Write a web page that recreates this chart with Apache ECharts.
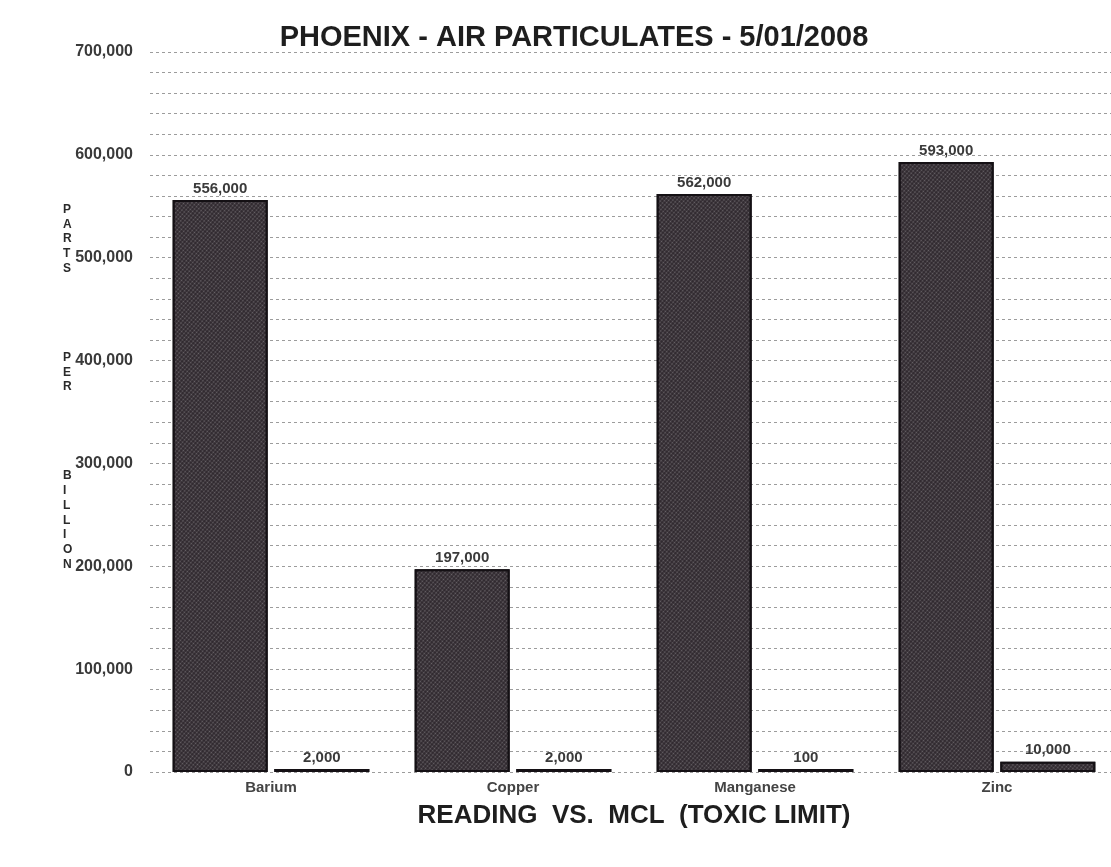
<!DOCTYPE html>
<html>
<head>
<meta charset="utf-8">
<title>Phoenix - Air Particulates</title>
<script src="https://cdn.jsdelivr.net/npm/echarts@6/dist/echarts.min.js"></script>
<style>
  html, body { margin: 0; padding: 0; background: #fff; }
  #chart { width: 1111px; height: 867px; }
</style>
</head>
<body>
<div id="chart"></div>
<script>
// 数据
const categories = ["Barium", "Copper", "Manganese", "Zinc"];
const readings = [556000, 197000, 562000, 593000];
const mcl = [2000, 2000, 100, 10000];
const yTickLabels = ["0", "100,000", "200,000", "300,000", "400,000", "500,000", "600,000", "700,000"];
const yTitle = ["P", "A", "R", "T", "S", "", "", "", "", "", "P", "E", "R", "", "", "", "", "", "B", "I", "L", "L", "I", "O", "N"];

const barStyle = {
  color: "#2e272d",
  borderColor: "#141014",
  borderWidth: 2,
  decal: {
    symbol: "circle",
    symbolSize: 0.6,
    color: "rgba(255,255,255,0.28)",
    dashArrayX: [3, 0],
    dashArrayY: [3, 0],
    rotation: 0.7,
  },
};

const labelStyle = {
  show: true,
  position: "top",
  distance: 4,
  fontFamily: "Liberation Sans, Arial",
  fontSize: 15,
  fontWeight: "bold",
  color: "#3a3a3a",
  formatter: (p) => p.value.toLocaleString("en-US"),
};

const chart = echarts.init(document.getElementById("chart"));
chart.setOption({
  animation: false,
  backgroundColor: "#fff",
  textStyle: { fontFamily: "Liberation Sans, Arial" },
  title: {
    text: "PHOENIX - AIR PARTICULATES - 5/01/2008",
    left: 569,
    top: 18,
    textAlign: "center",
    textStyle: { fontSize: 29, fontWeight: "bold", color: "#1e1e1e" },
  },
  graphic: [
    {
      type: "text",
      left: 63,
      top: 202,
      style: {
        text: yTitle.join("\n"),
        fontSize: 12,
        fontWeight: "bold",
        lineHeight: 14.8,
        fill: "#2a2a2a",
        align: "center",
      },
    },
  ],
  grid: { left: 150, width: 968, top: 52, bottom: 95, outerBoundsMode: "none" },
  xAxis: {
    type: "category",
    data: categories,
    axisLine: { show: false },
    axisTick: { show: false },
    axisLabel: {
      margin: 8,
      fontSize: 15,
      fontWeight: "bold",
      color: "#444",
    },
    name: "READING  VS.  MCL  (TOXIC LIMIT)",
    nameLocation: "middle",
    nameGap: 31,
    nameTextStyle: { fontSize: 26, fontWeight: "bold", color: "#1e1e1e" },
  },
  yAxis: {
    type: "value",
    min: 0,
    max: 700000,
    interval: 20000,
    axisLine: { show: false },
    axisTick: { show: false },
    axisLabel: {
      margin: 17,
      fontSize: 16,
      fontWeight: "bold",
      color: "#3a3a3a",
      formatter: (v) => (v % 100000 === 0 ? yTickLabels[v / 100000] : ""),
    },
    splitLine: {
      lineStyle: { color: "#9c9c9c", type: [3, 3], width: 1 },
    },
  },
  series: [
    {
      name: "Reading",
      type: "bar",
      data: readings,
      barWidth: 95,
      barGap: "7%",
      itemStyle: barStyle,
      label: labelStyle,
    },
    {
      name: "MCL",
      type: "bar",
      data: mcl,
      barWidth: 95,
      barMinHeight: 3,
      itemStyle: barStyle,
      label: labelStyle,
    },
  ],
});
window.addEventListener("resize", () => chart.resize());
</script>
</body>
</html>
